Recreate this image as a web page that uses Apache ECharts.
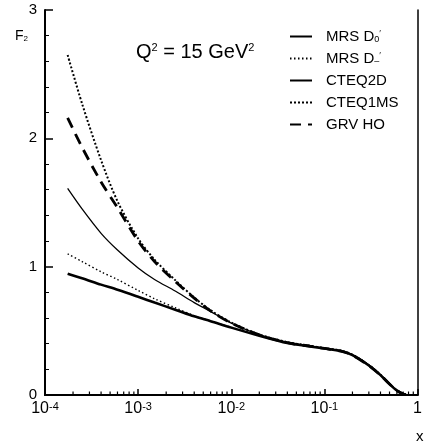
<!DOCTYPE html>
<html>
<head>
<meta charset="utf-8">
<script src="https://cdn.jsdelivr.net/npm/echarts@6/dist/echarts.min.js"></script>
<style>
  html, body { margin: 0; padding: 0; background: #fff; }
  #main { width: 425px; height: 445px; }
</style>
</head>
<body>
<div id="main"></div>
<script>
// x values (Bjorken x) shared by all curves
var xs = [1.75e-4, 2.5e-4, 4e-4, 6e-4, 1e-3, 1.5e-3, 2.5e-3, 4e-3, 6e-3, 1e-2,
          0.02, 0.04, 0.07, 0.1, 0.15, 0.2, 0.3, 0.4, 0.5, 0.6, 0.7, 0.75];

// F2
var mrsD0 = [0.945, 0.91, 0.86, 0.82, 0.765, 0.72, 0.665, 0.613, 0.575, 0.525,
             0.462, 0.405, 0.378, 0.362, 0.342, 0.31, 0.23, 0.155, 0.085, 0.035, 0.008, 0.002];
var mrsDm = [1.10, 1.04, 0.96, 0.90, 0.815, 0.75, 0.68, 0.618, 0.577, 0.527,
             0.465, 0.41, 0.381, 0.364, 0.343, 0.311, 0.231, 0.156, 0.086, 0.035, 0.008, 0.002];
var cteq2d = [1.61, 1.45, 1.26, 1.13, 0.99, 0.90, 0.81, 0.72, 0.65, 0.56,
              0.47, 0.41, 0.382, 0.365, 0.345, 0.313, 0.232, 0.157, 0.087, 0.036, 0.009, 0.002];
var cteq1ms = [2.65, 2.27, 1.83, 1.51, 1.22, 1.055, 0.895, 0.76, 0.66, 0.565,
               0.472, 0.412, 0.383, 0.366, 0.346, 0.314, 0.233, 0.158, 0.088, 0.037, 0.009, 0.002];
var grvHO = [2.16, 1.93, 1.66, 1.46, 1.20, 1.04, 0.885, 0.755, 0.655, 0.56,
             0.468, 0.408, 0.38, 0.363, 0.342, 0.31, 0.229, 0.154, 0.085, 0.035, 0.008, 0.002];

var names = ["MRS D0'", "MRS D-'", 'CTEQ2D', 'CTEQ1MS', 'GRV HO'];
var legendText = {
  "MRS D0'": 'MRS D{sub|0}{sup|\u2032}',
  "MRS D-'": 'MRS D{sub|\u2013}{sup|\u2032}',
  'CTEQ2D': 'CTEQ2D',
  'CTEQ1MS': 'CTEQ1MS',
  'GRV HO': 'GRV HO'
};
var xLabels = {'-4': '-4', '-3': '-3', '-2': '-2', '-1': '-1'};

// minor tick positions on the log axis (2..9 per decade)
var minorX = [];
for (var d = -4; d < 0; d++) {
  for (var k = 2; k <= 9; k++) minorX.push([k * Math.pow(10, d), 0]);
}

function pairs(ys) {
  return xs.map(function (x, i) { return [x, ys[i]]; });
}

var font = 'Liberation Sans, Arial, Helvetica, sans-serif';
var chart = echarts.init(document.getElementById('main'));

var option = {
  animation: false,
  backgroundColor: '#fff',
  color: ['#000'],
  textStyle: { fontFamily: font, color: '#000' },
  grid: { left: 45, right: 4, top: 10, bottom: 50 },
  title: [
    {
      text: 'Q{sup|2} = 15 GeV{sup|2}',
      left: 131, top: 37,
      textStyle: {
        fontFamily: font, fontSize: 20, fontWeight: 'normal', color: '#000',
        rich: { sup: { fontSize: 11, verticalAlign: 'top', fontFamily: font, color: '#000' } }
      }
    },
    {
      text: 'F{sub|2}',
      left: 10, top: 24,
      textStyle: {
        fontFamily: font, fontSize: 14, fontWeight: 'normal', color: '#000',
        rich: { sub: { fontSize: 8, verticalAlign: 'bottom', fontFamily: font, color: '#000' } }
      }
    },
    {
      text: 'x',
      left: 411, top: 424,
      textStyle: { fontFamily: font, fontSize: 15, fontWeight: 'normal', color: '#000' }
    }
  ],
  legend: {
    data: names,
    orient: 'vertical',
    left: 284, top: 24,
    itemWidth: 22, itemHeight: 14, itemGap: 7,
    itemStyle: { opacity: 0 },
    formatter: function (n) { return legendText[n]; },
    textStyle: {
      fontFamily: font, fontSize: 15, color: '#000', padding: [0, 0, 0, 9],
      rich: {
        sub: { fontSize: 9, verticalAlign: 'bottom', fontFamily: font, color: '#000' },
        sup: { fontSize: 9, verticalAlign: 'top', fontFamily: font, color: '#000' }
      }
    }
  },
  xAxis: [
    {
      type: 'log', logBase: 10, min: 1e-4, max: 1,
      axisLine: { lineStyle: { color: '#000', width: 2 } },
      axisTick: { inside: true, length: 6, lineStyle: { color: '#000', width: 1.5 } },
      splitLine: { show: false },
      axisLabel: {
        color: '#000', fontSize: 16, margin: 6,
        formatter: function (v) {
          var e = Math.round(Math.log10(v));
          if (e === 0) return '1';
          return '10{sup|' + xLabels[String(e)] + '}';
        },
        rich: { sup: { fontSize: 11, verticalAlign: 'top', fontFamily: font, color: '#000' } }
      }
    },
    {
      type: 'log', logBase: 10, min: 1e-4, max: 1, position: 'top',
      axisLine: { lineStyle: { color: '#000', width: 2 } },
      axisTick: { show: false }, axisLabel: { show: false }, splitLine: { show: false }
    }
  ],
  yAxis: [
    {
      type: 'value', min: 0, max: 3, interval: 1,
      axisLine: { show: true, lineStyle: { color: '#000', width: 2 } },
      axisTick: { inside: true, length: 8, lineStyle: { color: '#000', width: 1.5 } },
      minorTick: { show: true, splitNumber: 5, length: 4, lineStyle: { color: '#000', width: 1 } },
      splitLine: { show: false },
      axisLabel: { color: '#000', fontSize: 15, margin: 8 }
    },
    {
      type: 'value', min: 0, max: 3, position: 'right',
      axisLine: { show: true, lineStyle: { color: '#000', width: 1.5 } },
      axisTick: { show: false }, axisLabel: { show: false }, splitLine: { show: false }
    }
  ],
  series: [
    {
      name: "MRS D0'", type: 'line', data: pairs(mrsD0), symbol: 'none', smooth: 0.3,
      itemStyle: { color: '#000' },
      lineStyle: { color: '#000', width: 2.6, type: 'solid' }, z: 5
    },
    {
      name: "MRS D-'", type: 'line', data: pairs(mrsDm), symbol: 'none', smooth: 0.3,
      itemStyle: { color: '#000' },
      lineStyle: { color: '#000', width: 1.4, type: [1.5, 2.5] }
    },
    {
      name: 'CTEQ2D', type: 'line', data: pairs(cteq2d), symbol: 'none', smooth: 0.3,
      itemStyle: { color: '#000' },
      lineStyle: { color: '#000', width: 1.3, type: 'solid' }
    },
    {
      name: 'CTEQ1MS', type: 'line', data: pairs(cteq1ms), symbol: 'none', smooth: 0.3,
      itemStyle: { color: '#000' },
      lineStyle: { color: '#000', width: 2, type: [2, 2] }
    },
    {
      name: 'GRV HO', type: 'line', data: pairs(grvHO), symbol: 'none', smooth: 0.3,
      itemStyle: { color: '#000' },
      lineStyle: { color: '#000', width: 2.8, type: [11, 7] }
    },
    {
      type: 'custom', data: minorX, silent: true, clip: false,
      renderItem: function (params, api) {
        var p = api.coord([api.value(0), 0]);
        return {
          type: 'line',
          shape: { x1: p[0], y1: p[1], x2: p[0], y2: p[1] - 3.5 },
          style: { stroke: '#000', lineWidth: 1.2 }
        };
      }
    }
  ]
};

chart.setOption(option);
</script>
</body>
</html>
